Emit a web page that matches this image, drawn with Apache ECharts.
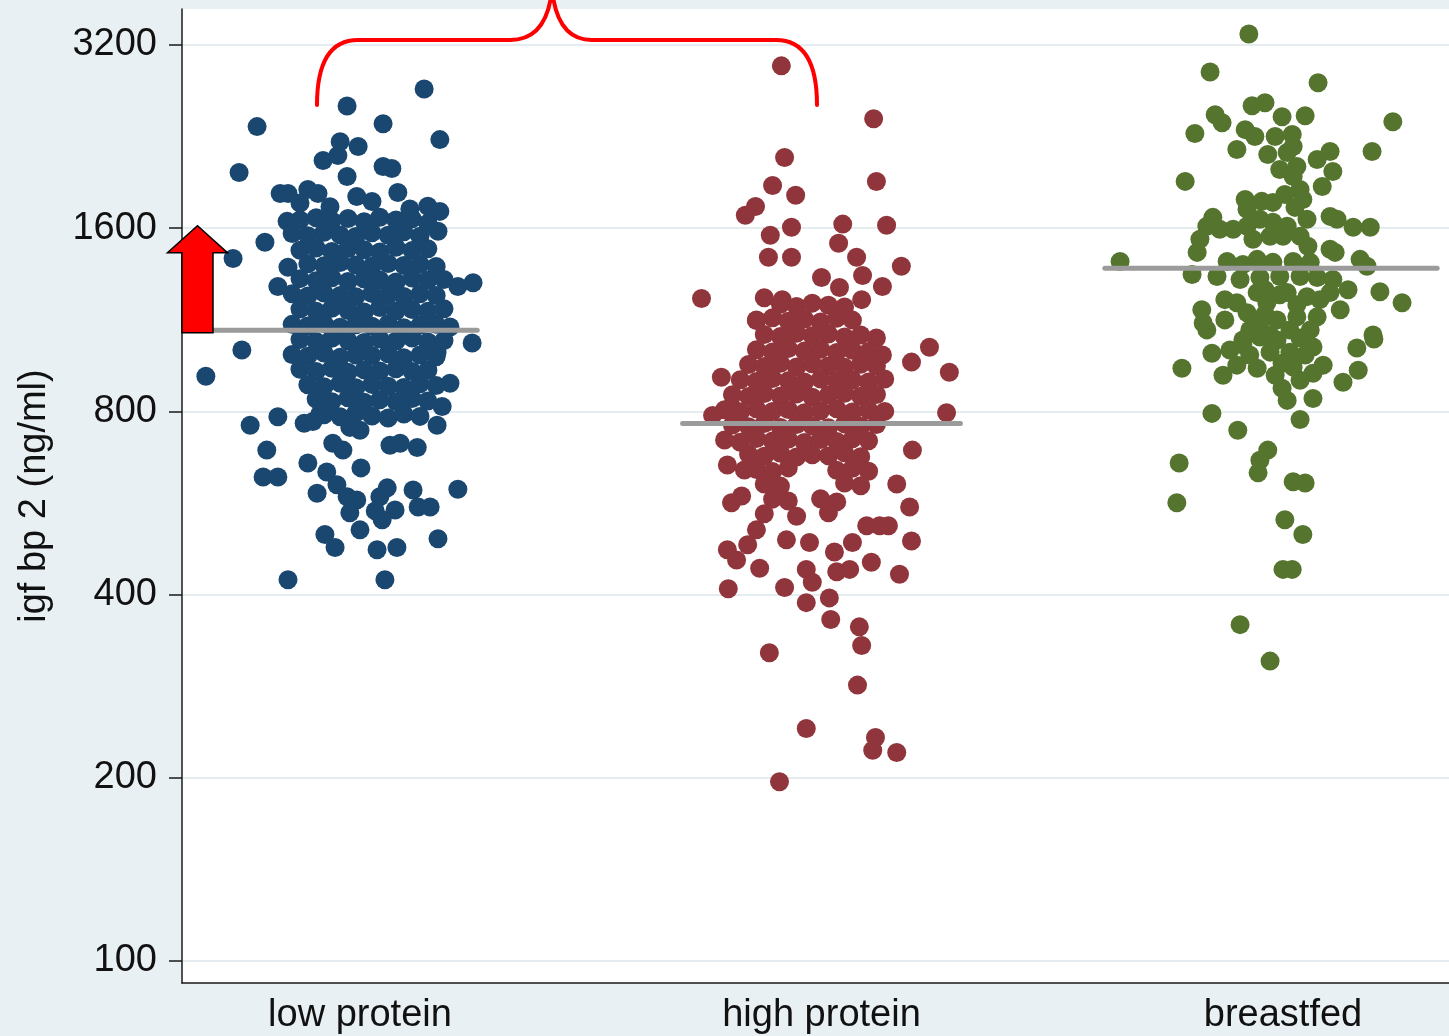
<!DOCTYPE html>
<html>
<head>
<meta charset="utf-8">
<title>igf bp 2 by feeding group</title>
<script src="https://cdn.jsdelivr.net/npm/echarts@6/dist/echarts.min.js"></script>
<style>
  html, body { margin: 0; padding: 0; background: #e9f0f3; }
  #chart { width: 1449px; height: 1036px; }
</style>
</head>
<body>
<div id="chart"></div>
<script>
// Feeding groups along the x axis
const groups = ['low protein', 'high protein', 'breastfed'];
// Labelled y ticks (ng/ml, doubling scale)
const yTicks = [100, 200, 400, 800, 1600, 3200];
// Group means (ng/ml)
const groupMeans = [1087, 764, 1375];

// Each point: [horizontal jitter as a fraction of the group spacing, igf bp 2 in ng/ml]
const lowProtein = [
  [0.139,2710],[-0.028,2540],[0.050,2376],[-0.223,2350],[0.173,2237],[-0.043,2220],[-0.004,2180],
  [-0.080,2067],[-0.048,2107],[-0.262,1975],[0.050,2021],[0.069,2006],[-0.028,1946],[-0.173,1825],
  [-0.156,1825],[-0.113,1853],[-0.091,1825],[0.082,1832],[-0.007,1804],[0.147,1738],[0.173,1705],
  [-0.158,1642],[0.169,1582],[-0.206,1517],[-0.275,1427],[-0.156,1380],[-0.178,1283],[0.212,1283],
  [0.245,1302],[-0.256,1009],[0.243,1036],[0.195,1101],[-0.334,914],[-0.238,759],[-0.202,691],
  [-0.210,624],[-0.178,624],[-0.178,784],[-0.121,765],[-0.113,658],[-0.072,636],[-0.093,587],
  [-0.050,606],[-0.028,579],[-0.007,572],[-0.022,545],[0,511],[-0.076,502],[-0.054,478],[0.002,646],
  [0.059,599],[0.043,579],[0.033,549],[0.076,551],[0.048,531],[0.115,594],[0.126,557],[0.152,557],
  [0.212,596],[0.169,494],[0.037,474],[0.080,478],[-0.156,423],[0.054,423],[0.065,704],[0.087,709],
  [0.124,698],[-0.037,691],[-0.059,709],[-0.087,792],[-0.102,770],[-0.022,753],[0,745],[0.167,759],
  [0.178,815],[0.195,890],[0.167,1001],
  [-0.130,1760],[-0.065,1735],[0.026,1770],[0.108,1720],
  [-0.130,1650],[-0.095,1665],[-0.061,1645],[-0.026,1660],[0.009,1640],[0.043,1668],[0.078,1650],[0.113,1658],[0.147,1630],
  [-0.147,1568],[-0.113,1555],[-0.078,1575],[-0.043,1560],[-0.009,1550],[0.026,1572],[0.061,1558],[0.095,1578],[0.130,1552],
  [-0.130,1472],[-0.095,1485],[-0.061,1465],[-0.026,1482],[0.009,1475],[0.043,1462],[0.078,1488],[0.113,1470],[0.147,1480],
  [-0.113,1398],[-0.078,1388],[-0.043,1405],[-0.009,1392],[0.026,1385],[0.061,1400],[0.095,1390],[0.130,1396],[0.165,1384],
  [-0.130,1322],[-0.095,1312],[-0.061,1326],[-0.026,1308],[0.009,1320],[0.043,1315],[0.078,1305],[0.113,1325],[0.147,1314],[0.182,1318],
  [-0.147,1248],[-0.113,1238],[-0.078,1252],[-0.043,1240],[-0.009,1235],[0.026,1250],[0.061,1242],[0.095,1236],[0.130,1248],[0.165,1240],
  [-0.130,1178],[-0.095,1168],[-0.061,1182],[-0.026,1172],[0.009,1165],[0.043,1185],[0.078,1170],[0.113,1176],[0.147,1168],[0.182,1180],
  [-0.147,1112],[-0.113,1105],[-0.078,1116],[-0.043,1100],[-0.009,1110],[0.026,1104],[0.061,1115],[0.095,1098],[0.130,1108],[0.165,1112],
  [-0.130,1050],[-0.095,1042],[-0.061,1055],[-0.026,1045],[0.009,1038],[0.043,1052],[0.078,1044],[0.113,1056],[0.147,1040],[0.182,1046],
  [-0.147,992],[-0.113,986],[-0.078,998],[-0.043,982],[-0.009,990],[0.026,988],[0.061,995],[0.095,980],[0.130,990],[0.165,984],
  [-0.130,938],[-0.095,930],[-0.061,942],[-0.026,928],[0.009,936],[0.043,932],[0.078,940],[0.113,930],[0.147,935],
  [-0.113,885],[-0.078,878],[-0.043,890],[-0.009,875],[0.026,886],[0.061,880],[0.095,876],[0.130,888],[0.165,882],
  [-0.095,838],[-0.061,830],[-0.026,842],[0.009,828],[0.043,836],[0.078,830],[0.113,840],[0.147,832],
  [-0.078,790],[-0.043,784],[-0.009,795],[0.026,786],[0.061,780],[0.095,792],[0.130,785]
];

const highProtein = [
  [-0.087,2957],[0.113,2421],[-0.080,2091],[0.119,1909],[-0.106,1881],[-0.056,1812],[-0.143,1737],
  [-0.165,1680],[-0.065,1606],[-0.111,1558],[-0.115,1433],[-0.065,1433],[0.046,1625],[0.037,1511],
  [0.141,1618],[0.076,1433],[0.089,1338],[0.173,1385],[0,1328],[0.132,1283],[0.039,1278],[-0.260,1226],
  [-0.124,1230],[-0.085,1221],[0.087,1221],[-0.141,1131],[0.119,1056],[0.132,990],[0.234,1020],
  [0.195,964],[0.277,928],[-0.217,910],[0.271,796],[-0.236,788],[-0.195,814],[0.197,691],[0.163,608],
  [0.191,557],[0.195,490],[0.169,432],[-0.204,653],[-0.167,641],[-0.195,566],[-0.173,581],[-0.141,511],
  [-0.160,483],[-0.204,474],[-0.184,456],[-0.134,442],[-0.202,409],[-0.080,411],[-0.033,388],[0.017,395],
  [0.020,364],[0.082,354],[0.087,330],[-0.113,321],[0.078,284],[-0.033,241],[0.117,233],[0.111,222],
  [0.163,220],[-0.091,197],
  [-0.076,492],[-0.026,487],[0.028,470],[0.067,487],[0.098,519],[0.126,519],[0.145,519],[0.108,452],
  [0.033,436],[0.061,440],[-0.033,440],[-0.020,419],
  [-0.089,1200],[-0.054,1190],[-0.020,1205],[0.015,1195],[0.050,1188],
  [-0.141,1128],[-0.106,1140],[-0.072,1125],[-0.037,1135],[-0.002,1122],[0.033,1138],[0.067,1130],
  [-0.124,1070],[-0.089,1062],[-0.054,1075],[-0.020,1065],[0.015,1072],[0.050,1060],[0.085,1068],
  [-0.141,1010],[-0.106,1002],[-0.072,1015],[-0.037,1005],[-0.002,1012],[0.033,1000],[0.067,1008],[0.102,1003],
  [-0.158,955],[-0.124,948],[-0.089,960],[-0.054,946],[-0.020,958],[0.015,950],[0.050,945],[0.085,956],[0.119,950],
  [-0.176,902],[-0.141,896],[-0.106,906],[-0.072,898],[-0.037,894],[-0.002,904],[0.033,897],[0.067,901],[0.102,894],[0.137,904],
  [-0.193,852],[-0.158,846],[-0.124,856],[-0.089,848],[-0.054,854],[-0.020,844],[0.015,851],[0.050,857],[0.085,847],[0.119,853],
  [-0.210,805],[-0.176,798],[-0.141,808],[-0.106,800],[-0.072,806],[-0.037,796],[-0.002,802],[0.033,808],[0.067,798],[0.102,804],[0.137,800],
  [-0.193,760],[-0.158,755],[-0.124,764],[-0.089,753],[-0.054,761],[-0.020,757],[0.015,752],[0.050,763],[0.085,756],[0.119,761],
  [-0.210,718],[-0.176,712],[-0.141,722],[-0.106,715],[-0.072,720],[-0.037,711],[-0.002,719],[0.033,714],[0.067,721],[0.102,716],
  [-0.158,680],[-0.124,675],[-0.089,683],[-0.054,673],[-0.020,679],[0.015,676],[0.050,684],[0.085,674],
  [-0.141,642],[-0.106,637],[-0.072,646],[0.033,640],[0.067,645],[0.102,638],
  [-0.124,608],[-0.089,603],[0.050,610],[0.085,604],
  [-0.106,574],[-0.072,570],[-0.002,575],[0.033,568],
  [-0.124,543],[-0.054,538],[0.015,545]
];

const breastfed = [
  [-0.074,3335],[-0.158,2890],[0.076,2774],[0.238,2394],[-0.067,2543],[-0.039,2572],[-0.147,2458],
  [-0.132,2385],[-0.191,2290],[-0.002,2440],[0.048,2449],[-0.082,2323],[-0.061,2264],[-0.100,2155],
  [-0.017,2264],[0.020,2281],[-0.033,2115],[0.009,2131],[0.022,2180],[0.030,2021],[0.102,2139],
  [0.074,2075],[0.108,1983],[0.193,2139],[0.085,1874],[0.037,1853],[0.043,1784],[-0.212,1910],
  [-0.082,1784],[-0.046,1771],[-0.022,1764],[-0.078,1718],[0.026,1731],[0.052,1655],[0.102,1673],
  [0.117,1655],[0.152,1606],[0.189,1606],[-0.152,1667],[-0.165,1612],[-0.137,1594],[-0.108,1594],
  [-0.078,1612],[-0.050,1655],[-0.022,1636],[0.009,1612],[-0.180,1534],[-0.186,1460],[-0.065,1534],
  [-0.028,1552],[0,1552],[0.037,1552],[0.054,1494],[0.102,1477],[0.113,1460],[0.167,1422],[0.182,1385],
  [-0.353,1411],[-0.197,1343],[-0.143,1333],[-0.093,1318],[-0.056,1422],[-0.022,1406],[0.022,1411],
  [0.059,1406],[-0.050,1328],[-0.007,1333],[0.037,1333],[0.074,1328],[0.108,1318],[0.141,1268],
  [0.210,1258],[0.258,1207],[-0.100,1207],[-0.056,1254],[-0.035,1207],[0.009,1254],[0.052,1235],
  [0.102,1254],[-0.176,1175],[-0.173,1118],[-0.078,1162],[-0.050,1118],[-0.013,1131],[0.030,1144],
  [0.074,1144],[0.195,1068],[-0.087,1048],[0.059,1089],[-0.165,1089],[-0.154,997],[-0.219,942],
  [-0.130,917],[-0.100,953],[-0.087,1029],[-0.056,942],[-0.050,1060],[-0.013,1048],[0.037,1056],
  [0.065,1021],[-0.002,960],[0.022,946],[0.037,900],[0.065,924],[0.087,953],[-0.002,873],[0.009,834],
  [0.065,840],[0.037,776],[0.130,893],[0.163,935],[0.160,1017],[0.197,1052],[-0.154,794],[-0.098,745],
  [-0.033,691],[-0.050,665],[-0.054,634],[-0.225,658],[0.022,613],[0.048,610],[-0.230,566],[0.004,531],
  [0.043,502],[0,440],[0.020,440],[-0.093,357],[-0.028,311],
  [-0.007,1998],[0.022,1946],[0.004,1818],[-0.039,1268],[-0.007,1244],[0.030,1198],[-0.072,1089],
  [-0.028,1068],[0.015,1089],[-0.115,1009],[-0.072,990],[-0.028,1001],[0.015,1001],[0.048,990],
  [-0.017,917],[-0.126,1221],[-0.126,1131],[0.080,1221],[0.124,1175],[-0.039,1155],[-0.087,1395],
  [-0.121,1411]
];

// Horizontal reach of each mean bar, relative to its group position
const meanSpans = [[-0.35, 0.254], [-0.301, 0.301], [-0.386, 0.334]];

const colors = ['#1a476f', '#90353b', '#55752f'];
const FONT = '"Liberation Sans", Arial, sans-serif';

// The y axis is drawn on a doubling scale: position = log2(value / 100)
const toY = v => Math.log2(v / 100);
const fromY = p => Math.round(100 * Math.pow(2, p));
const yTickPos = yTicks.map(toY);

const pointSets = [lowProtein, highProtein, breastfed];

const scatterSeries = pointSets.map((pts, gi) => ({
  type: 'scatter',
  name: groups[gi],
  symbol: 'circle',
  symbolSize: 19,
  itemStyle: { color: colors[gi], opacity: 1 },
  z: 2,
  silent: true,
  data: pts.map(([j, v]) => [gi + 1 + j, toY(v)])
}));

const meanSeries = groupMeans.map((m, gi) => ({
  type: 'line',
  symbol: 'none',
  silent: true,
  z: 4,
  lineStyle: { color: '#9b9b9b', width: 5, cap: 'round' },
  data: [[gi + 1 + meanSpans[gi][0], toY(m)], [gi + 1 + meanSpans[gi][1], toY(m)]]
}));

const chart = echarts.init(document.getElementById('chart'), null, { renderer: 'canvas' });

chart.setOption({
  animation: false,
  backgroundColor: '#e9f0f3',
  grid: {
    left: 182, right: 0, top: 9, bottom: 53,
    show: true, backgroundColor: '#ffffff', borderWidth: 0
  },
  xAxis: {
    type: 'value',
    min: 0.6143,
    max: 3.3597,
    axisLine: { show: true, onZero: false, lineStyle: { color: '#1a1a1a', width: 1.5 } },
    axisTick: { show: false },
    splitLine: { show: false },
    axisLabel: {
      customValues: [1, 2, 3],
      formatter: v => groups[Math.round(v) - 1] || '',
      fontFamily: FONT, fontSize: 38, color: '#111', margin: 14
    }
  },
  yAxis: {
    type: 'value',
    min: toY(92),
    max: toY(3667),
    name: 'igf bp 2 (ng/ml)',
    nameLocation: 'middle',
    nameGap: 128,
    nameTextStyle: { fontFamily: FONT, fontSize: 38, color: '#111' },
    axisLine: { show: true, onZero: false, lineStyle: { color: '#1a1a1a', width: 1.5 } },
    axisTick: { show: true, length: 13, customValues: yTickPos, lineStyle: { color: '#1a1a1a', width: 1.5 } },
    splitLine: { show: true, lineStyle: { color: '#e6edf0', width: 2 } },
    axisLabel: {
      customValues: yTickPos,
      formatter: v => String(fromY(v)),
      fontFamily: FONT, fontSize: 38, color: '#111', margin: 25,
      padding: [4, 0, 0, 0]
    }
  },
  series: [...scatterSeries, ...meanSeries]
});

// Annotations: the upward arrow beside the low-protein mean and the brace joining the two formula groups
const left = chart.convertToPixel({ xAxisIndex: 0 }, 0.6143);
const tipY = chart.convertToPixel({ yAxisIndex: 0 }, toY(1615));
const baseY = chart.convertToPixel({ yAxisIndex: 0 }, toY(1077));
const headY = tipY + 27;

const red = '#ff0000';
const braceStyle = { stroke: red, lineWidth: 4, fill: null, lineCap: 'round' };

chart.setOption({
  graphic: [
    {
      type: 'polygon',
      z: 100,
      shape: {
        points: [
          [left, baseY], [left, headY], [left - 14.5, headY], [left + 15.5, tipY],
          [left + 45.5, headY], [left + 31, headY], [left + 31, baseY]
        ]
      },
      style: { fill: red, stroke: '#000', lineWidth: 1.5 }
    },
    { type: 'bezierCurve', z: 100, shape: { x1: 317, y1: 105, cpx1: 317, cpy1: 62, cpx2: 330, cpy2: 40, x2: 358, y2: 40 }, style: braceStyle },
    { type: 'line', z: 100, shape: { x1: 358, y1: 40, x2: 510, y2: 40 }, style: braceStyle },
    { type: 'bezierCurve', z: 100, shape: { x1: 510, y1: 40, cpx1: 535, cpy1: 40, cpx2: 547, cpy2: 22, x2: 551, y2: -3 }, style: braceStyle },
    { type: 'bezierCurve', z: 100, shape: { x1: 553, y1: -3, cpx1: 557, cpy1: 22, cpx2: 568, cpy2: 40, x2: 592, y2: 40 }, style: braceStyle },
    { type: 'line', z: 100, shape: { x1: 592, y1: 40, x2: 776, y2: 40 }, style: braceStyle },
    { type: 'bezierCurve', z: 100, shape: { x1: 776, y1: 40, cpx1: 804, cpy1: 40, cpx2: 817, cpy2: 62, x2: 817, y2: 105 }, style: braceStyle }
  ]
});
</script>
</body>
</html>
